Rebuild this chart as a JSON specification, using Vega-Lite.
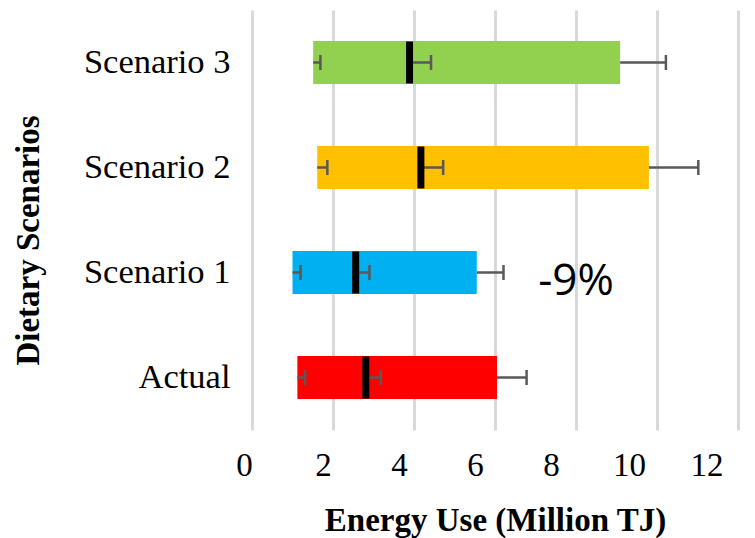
{
  "$schema": "https://vega.github.io/schema/vega-lite/v6.json",
  "autosize": "none",
  "padding": {"left": 252, "top": 10, "right": 17, "bottom": 108},
  "width": 486,
  "height": 420,
  "background": "white",
  "config": {"view": {"stroke": null}},
  "datasets": {
    "bars": [
      {"scenario": "Scenario 3", "low": 1.51, "median": 3.89, "high": 9.09, "lowCap": 1.69, "medCap": 4.42, "highCap": 10.22},
      {"scenario": "Scenario 2", "low": 1.61, "median": 4.17, "high": 9.80, "lowCap": 1.86, "medCap": 4.72, "highCap": 11.02},
      {"scenario": "Scenario 1", "low": 1.00, "median": 2.56, "high": 5.55, "lowCap": 1.20, "medCap": 2.90, "highCap": 6.21},
      {"scenario": "Actual", "low": 1.12, "median": 2.81, "high": 6.05, "lowCap": 1.31, "medCap": 3.18, "highCap": 6.78}
    ],
    "note": [
      {"scenario": "Scenario 1", "x": 8.0, "label": "-9%"}
    ]
  },
  "data": {"name": "bars"},
  "encoding": {
    "y": {
      "field": "scenario",
      "type": "nominal",
      "sort": ["Scenario 3", "Scenario 2", "Scenario 1", "Actual"],
      "scale": {"paddingInner": 0, "paddingOuter": 0},
      "axis": {
        "title": "Dietary Scenarios",
        "titleFont": "Liberation Serif",
        "titleFontSize": 33,
        "titleFontWeight": "bold",
        "titleColor": "#000000",
        "titleAngle": -90,
        "titleAlign": "center",
        "titleBaseline": "middle",
        "titleX": -224,
        "titleY": 230,
        "labelFont": "Liberation Serif",
        "labelFontSize": 34.5,
        "labelColor": "#000000",
        "labelPadding": 22,
        "ticks": false,
        "domain": false,
        "grid": false
      }
    }
  },
  "layer": [
    {
      "mark": {"type": "bar", "size": 43},
      "encoding": {
        "x": {
          "field": "low",
          "type": "quantitative",
          "scale": {"domain": [0, 12], "nice": false, "zero": false},
          "axis": {
            "title": "Energy Use (Million TJ)",
            "titleFont": "Liberation Serif",
            "titleFontSize": 33,
            "titleFontWeight": "bold",
            "titleColor": "#000000",
            "titleBaseline": "alphabetic",
            "titleY": 100,
            "values": [0, 2, 4, 6, 8, 10, 12],
            "labelFont": "Liberation Serif",
            "labelFontSize": 33,
            "labelColor": "#000000",
            "labelBaseline": "alphabetic",
            "labelFlush": false,
            "labelOverlap": false,
            "labelPadding": 45,
            "labelOffset": {
              "condition": [
                {"test": "datum.value == 0", "value": -8},
                {"test": "datum.value == 2", "value": -10},
                {"test": "datum.value == 4", "value": -15},
                {"test": "datum.value == 6", "value": -20},
                {"test": "datum.value == 8", "value": -25},
                {"test": "datum.value == 10", "value": -28}
              ],
              "value": -31.5
            },
            "ticks": false,
            "domain": false,
            "grid": true,
            "gridColor": "#d9d9d9",
            "gridWidth": 3
          }
        },
        "x2": {"field": "high"},
        "color": {
          "field": "scenario",
          "type": "nominal",
          "scale": {
            "domain": ["Scenario 3", "Scenario 2", "Scenario 1", "Actual"],
            "range": ["#92D050", "#FFC000", "#00B0F0", "#FF0000"]
          },
          "legend": null
        }
      }
    },
    {
      "mark": {"type": "rule", "color": "#595959", "strokeWidth": 2.5},
      "encoding": {"x": {"field": "low", "type": "quantitative"}, "x2": {"field": "lowCap"}}
    },
    {
      "mark": {"type": "rule", "color": "#595959", "strokeWidth": 2.5},
      "encoding": {"x": {"field": "median", "type": "quantitative"}, "x2": {"field": "medCap"}}
    },
    {
      "mark": {"type": "rule", "color": "#595959", "strokeWidth": 2.5},
      "encoding": {"x": {"field": "high", "type": "quantitative"}, "x2": {"field": "highCap"}}
    },
    {
      "mark": {"type": "tick", "color": "#595959", "opacity": 1, "thickness": 2.5, "size": 15, "orient": "vertical"},
      "encoding": {"x": {"field": "lowCap", "type": "quantitative"}}
    },
    {
      "mark": {"type": "tick", "color": "#595959", "opacity": 1, "thickness": 2.5, "size": 15, "orient": "vertical"},
      "encoding": {"x": {"field": "medCap", "type": "quantitative"}}
    },
    {
      "mark": {"type": "tick", "color": "#595959", "opacity": 1, "thickness": 2.5, "size": 15, "orient": "vertical"},
      "encoding": {"x": {"field": "highCap", "type": "quantitative"}}
    },
    {
      "mark": {"type": "tick", "color": "#000000", "opacity": 1, "thickness": 7, "size": 42, "orient": "vertical"},
      "encoding": {"x": {"field": "median", "type": "quantitative"}}
    },
    {
      "data": {"name": "note"},
      "mark": {"type": "text", "font": "Open Sans", "fontSize": 44, "color": "#000000", "align": "center", "baseline": "middle", "dy": 9},
      "encoding": {
        "x": {"field": "x", "type": "quantitative"},
        "text": {"field": "label"}
      }
    }
  ]
}
